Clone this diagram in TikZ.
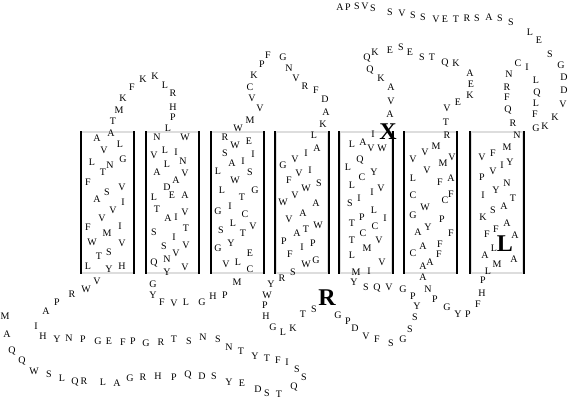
\documentclass[tikz,border=0pt]{standalone}
\usepackage{fontspec}
\setmainfont{Liberation Serif}
\usepackage{tikz}
\definecolor{helixgray}{HTML}{DDDDDD}

\begin{document}
\begin{tikzpicture}[
  x=1pt, y=-1pt,
  res/.style={inner sep=0pt, font=\fontsize{10}{10}\selectfont},
  big/.style={inner sep=0pt, font=\fontsize{24}{24}\selectfont\bfseries},
  helix/.style={draw=helixgray, line width=1.5pt, minimum width=52pt, minimum height=141pt, inner sep=0pt},
  tmline/.style={line width=2.4pt, black}
]
\useasboundingbox (0,0) rectangle (571,410);
\foreach \cx [count=\k] in {107.5,172.5,237.5,302,366,430.5,497}
  \node[helix] (h\k) at (\cx,202.5) {};
\foreach \k in {1,...,7}
  \draw[tmline] (h\k.north west) -- (h\k.south west) (h\k.north east) -- (h\k.south east);
\foreach \x/\y/\r [count=\i] in {5/316/M, 7/334/A, 12/351/Q, 22/361/Q, 34/371/W, 49/374/S, 62/378/L, 75/382/Q, 84/381/R, 103/382/L, 117/383/A, 130/378/G, 143/377/R, 158/376/H, 174/377/P, 188/375/Q, 202/376/D, 214/376/S, 229/382/Y, 242/383/E, 258/389/D, 267/393/S, 279/394/T, 294/387/Q, 304/377/S, 297/369/S, 287/362/I, 278/360/F, 267/358/T, 255/356/Y, 241/351/T, 229/347/N, 218/339/S, 203/337/N, 189/341/S, 174/339/T, 161/342/R, 146/343/G, 133/341/P, 123/342/F, 109/341/E, 98/341/G, 83/339/P, 69/338/N, 57/339/Y, 43/336/H, 36/326/I, 46/311/A, 57/302/P, 72/294/R, 86/289/W, 97/281/V}
  \node[res] (nt\i) at (\x,\y) {\r};
\foreach \x/\y/\r [count=\i] in {97/138/A, 111/133/A, 120/144/L, 104/150/V, 92/162/L, 123/159/G, 110/165/N, 103/172/T, 88/182/F, 122/187/V, 107/192/S, 97/199/A, 123/202/I, 113/210/V, 102/218/V, 88/227/F, 120/226/I, 107/233/M, 92/242/W, 122/243/V, 109/252/S, 99/256/T, 88/266/L, 109/269/Y, 122/266/H}
  \node[res] (tma\i) at (\x,\y) {\r};
\foreach \x/\y/\r [count=\i] in {113/121/T, 119/110/M, 123/98/K, 132/87/F, 143/79/K, 155/76/K, 165/85/L, 173/93/R, 173/107/H, 173/117/P, 168/128/L}
  \node[res] (la\i) at (\x,\y) {\r};
\foreach \x/\y/\r [count=\i] in {157/137/N, 185/137/W, 165/150/L, 176/152/I, 154/155/V, 183/161/N, 167/164/L, 157/172/A, 176/180/A, 185/173/V, 167/187/D, 154/197/L, 172/195/E, 185/195/A, 157/209/T, 185/212/V, 168/218/A, 176/217/I, 186/228/T, 154/232/S, 174/237/I, 164/246/S, 186/245/V, 176/253/V, 154/263/Q, 167/259/N, 185/267/V, 167/272/Y}
  \node[res] (tmb\i) at (\x,\y) {\r};
\foreach \x/\y/\r [count=\i] in {153/284/G, 153/295/Y, 162/302/F, 174/303/V, 186/302/L, 202/302/G, 213/296/H, 225/295/P, 237/282/M}
  \node[res] (lb\i) at (\x,\y) {\r};
\foreach \x/\y/\r [count=\i] in {225/137/R, 235/145/W, 249/141/E, 225/153/S, 253/154/I, 232/163/A, 243/161/I, 218/171/L, 250/172/S, 235/180/W, 222/190/L, 255/190/G, 242/197/T, 230/206/I, 218/211/G, 245/214/C, 233/223/L, 253/226/V, 221/230/S, 243/233/T, 231/243/Y, 218/248/G, 250/253/E, 238/262/L, 226/264/V, 250/269/C}
  \node[res] (tmc\i) at (\x,\y) {\r};
\foreach \x/\y/\r [count=\i] in {238/128/W, 250/120/M, 260/108/V, 252/98/V, 250/87/C, 254/75/K, 262/64/P, 268/55/F, 283/57/G, 289/68/N, 296/78/V, 305/86/R, 316/90/F, 325/99/D, 326/112/A, 323/124/K, 314/135/L}
  \node[res] (lc\i) at (\x,\y) {\r};
\foreach \x/\y/\r [count=\i] in {317/148/A, 306/153/I, 295/159/V, 283/165/G, 310/170/I, 299/173/V, 289/180/F, 319/183/S, 306/188/W, 295/195/V, 283/202/W, 316/203/A, 303/213/A, 289/219/V, 318/225/W, 306/229/T, 297/233/A, 284/241/P, 313/243/P, 302/247/I, 290/254/F, 316/260/G, 306/264/W, 293/272/S, 282/278/R}
  \node[res] (tmd\i) at (\x,\y) {\r};
\foreach \x/\y/\r [count=\i] in {271/284/Y, 267/295/W, 265/305/P, 266/316/H, 273/327/G, 283/332/L, 293/328/K, 303/314/T, 314/309/S, 338/315/G, 348/321/P, 355/328/D, 366/336/V, 377/339/F, 391/343/S, 403/339/G, 410/329/S, 415/317/S, 417/306/Y, 413/296/P, 403/289/G, 389/287/V, 377/288/Q, 366/287/S, 354/282/Y}
  \node[res] (ld\i) at (\x,\y) {\r};
\foreach \x/\y/\r [count=\i] in {373/134/I, 363/142/A, 352/144/L, 371/148/V, 382/148/W, 360/160/Q, 348/167/L, 374/172/Y, 362/177/C, 352/185/L, 381/188/V, 372/192/I, 359/198/I, 350/203/S, 374/210/L, 362/217/P, 385/218/I, 352/223/T, 375/226/C, 363/233/C, 379/240/V, 352/240/T, 367/248/M, 352/255/L, 382/262/V, 369/271/I, 356/272/M}
  \node[res] (tme\i) at (\x,\y) {\r};
\foreach \x/\y/\r [count=\i] in {390/114/A, 391/101/V, 391/87/A, 381/78/K, 370/70/Q, 367/58/Q, 375/52/K, 390/50/E, 401/47/S, 410/52/E, 422/57/S, 432/57/T, 445/63/Q, 456/63/K, 470/73/A, 471/84/E, 470/95/K, 458/102/E, 447/108/V, 446/122/T}
  \node[res] (le\i) at (\x,\y) {\r};
\foreach \x/\y/\r [count=\i] in {447/135/R, 436/146/M, 425/152/V, 413/159/V, 452/157/V, 443/163/M, 427/170/V, 413/178/L, 451/178/A, 440/182/F, 413/195/C, 451/194/F, 445/200/C, 425/207/W, 413/215/G, 442/219/P, 428/227/Y, 418/232/A, 451/233/F, 440/244/F, 423/246/A, 413/253/C, 439/254/F, 430/262/A, 423/266/A}
  \node[res] (tmf\i) at (\x,\y) {\r};
\foreach \x/\y/\r [count=\i] in {423/277/A, 428/289/N, 435/299/P, 447/307/G, 458/314/Y, 468/314/P, 478/304/F, 482/293/H, 483/280/P}
  \node[res] (lf\i) at (\x,\y) {\r};
\foreach \x/\y/\r [count=\i] in {488/271/L, 497/264/M, 485/255/A, 514/259/A, 494/248/L, 515/235/A, 487/234/F, 496/229/F, 507/223/A, 483/217/K, 493/210/S, 504/206/A, 513/198/T, 483/195/I, 496/190/Y, 507/183/N, 482/177/P, 493/171/V, 502/165/I, 510/162/Y, 482/157/V, 493/153/F, 507/147/M, 517/135/N}
  \node[res] (tmg\i) at (\x,\y) {\r};
\foreach \x/\y/\r [count=\i] in {513/123/R, 508/110/Q, 507/97/F, 507/87/R, 509/74/N, 518/63/C, 527/67/I, 536/80/L, 537/93/Q, 536/103/L, 535/114/F, 536/128/G, 545/126/K, 555/117/K, 563/104/V, 564/90/D, 564/77/D, 561/65/G, 550/54/S, 539/40/E, 530/32/L, 511/22/S, 500/18/S, 489/17/A, 477/18/S, 467/18/R, 456/19/T, 445/19/E, 436/19/V, 423/17/S, 413/15/S, 402/13/V, 390/12/S, 373/8/S, 365/6/V, 357/6/S, 348/7/P, 340/7/A}
  \node[res] (ct\i) at (\x,\y) {\r};
\node[big] (bigx) at (388,132) {X};
\node[big] (bigr) at (327,298) {R};
\node[big] (bigl) at (505,244) {L};
\end{tikzpicture}
\end{document}
